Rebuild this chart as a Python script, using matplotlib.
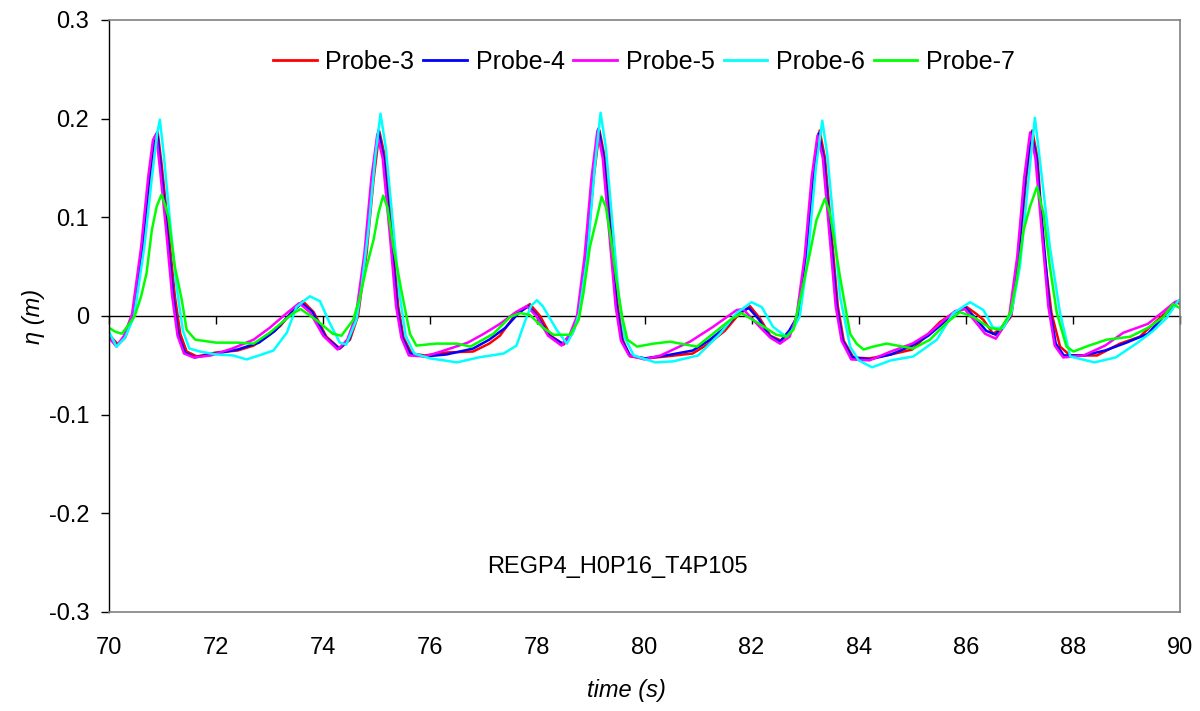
import matplotlib
matplotlib.use("Agg")
import matplotlib.pyplot as plt

plt.rcParams['font.family'] = ['Liberation Sans', 'DejaVu Sans']
plt.rcParams['axes.unicode_minus'] = False

# ---------------- data (time s, eta m) ----------------
probe3 = [(70.0, -0.019), (70.17, -0.029), (70.30, -0.022), (70.45, 0.0), (70.64, 0.070), (70.77, 0.138),
          (70.86, 0.178), (70.91, 0.186), (70.98, 0.155), (71.11, 0.087), (71.23, 0.020), (71.33, -0.018),
          (71.45, -0.036), (71.64, -0.041), (72.0, -0.037), (72.4, -0.035), (72.7, -0.030), (73.0, -0.019),
          (73.2, -0.010), (73.44, 0.006), (73.62, 0.015), (73.82, 0.004), (74.06, -0.021), (74.31, -0.033),
          (74.50, -0.024), (74.65, 0.0), (74.81, 0.064), (74.94, 0.138), (75.05, 0.187), (75.15, 0.162),
          (75.28, 0.087), (75.40, 0.010), (75.50, -0.022), (75.65, -0.038), (75.9, -0.040), (76.3, -0.037),
          (76.8, -0.036), (77.1, -0.028), (77.3, -0.020), (77.61, 0.003), (77.86, 0.012), (78.05, 0.0),
          (78.25, -0.020), (78.49, -0.029), (78.65, -0.018), (78.78, 0.0), (78.92, 0.060), (79.05, 0.140),
          (79.16, 0.188), (79.26, 0.160), (79.38, 0.085), (79.50, 0.010), (79.60, -0.025), (79.73, -0.041),
          (80.04, -0.043), (80.4, -0.041), (80.9, -0.038), (81.2, -0.028), (81.5, -0.015), (81.75, 0.001),
          (81.97, 0.010), (82.15, -0.002), (82.35, -0.020), (82.55, -0.025), (82.72, -0.015), (82.88, 0.0),
          (83.03, 0.060), (83.16, 0.140), (83.27, 0.188), (83.37, 0.160), (83.49, 0.085), (83.61, 0.010),
          (83.72, -0.025), (83.90, -0.042), (84.2, -0.043), (84.6, -0.039), (85.0, -0.034), (85.3, -0.018),
          (85.52, -0.006), (85.8, 0.004), (86.02, 0.009), (86.2, 0.002), (86.33, -0.004), (86.51, -0.018),
          (86.70, -0.011), (86.85, 0.0), (87.0, 0.060), (87.13, 0.140), (87.24, 0.188), (87.34, 0.160),
          (87.45, 0.070), (87.60, 0.003), (87.76, -0.031), (87.95, -0.040), (88.45, -0.040), (88.88, -0.028),
          (89.25, -0.021), (89.5, -0.008), (89.75, 0.004), (89.94, 0.014), (90.0, 0.012)]

probe4 = [(70.0, -0.022), (70.15, -0.030), (70.30, -0.020), (70.45, 0.002), (70.62, 0.070), (70.75, 0.140),
          (70.84, 0.180), (70.90, 0.186), (70.97, 0.150), (71.09, 0.085), (71.20, 0.020), (71.30, -0.020),
          (71.42, -0.037), (71.60, -0.042), (72.0, -0.038), (72.4, -0.034), (72.8, -0.027), (73.1, -0.015),
          (73.4, 0.003), (73.6, 0.013), (73.8, 0.004), (74.05, -0.022), (74.30, -0.033), (74.48, -0.024),
          (74.63, 0.0), (74.79, 0.064), (74.92, 0.140), (75.03, 0.188), (75.13, 0.160), (75.26, 0.085),
          (75.38, 0.010), (75.48, -0.022), (75.62, -0.038), (75.9, -0.041), (76.3, -0.039), (76.8, -0.033),
          (77.1, -0.024), (77.4, -0.012), (77.65, 0.003), (77.83, 0.010), (78.0, 0.0), (78.22, -0.020),
          (78.47, -0.028), (78.63, -0.018), (78.76, 0.0), (78.90, 0.060), (79.03, 0.140), (79.14, 0.190),
          (79.24, 0.160), (79.36, 0.085), (79.48, 0.010), (79.58, -0.025), (79.73, -0.040), (80.0, -0.043),
          (80.4, -0.040), (80.9, -0.035), (81.2, -0.025), (81.5, -0.012), (81.75, 0.003), (81.95, 0.008),
          (82.13, -0.003), (82.33, -0.020), (82.53, -0.026), (82.70, -0.015), (82.86, 0.0), (83.01, 0.060),
          (83.14, 0.140), (83.25, 0.185), (83.35, 0.160), (83.47, 0.085), (83.59, 0.010), (83.70, -0.025),
          (83.88, -0.042), (84.2, -0.044), (84.6, -0.039), (85.0, -0.030), (85.3, -0.020), (85.6, -0.006),
          (85.8, 0.004), (86.0, 0.008), (86.18, -0.002), (86.38, -0.015), (86.56, -0.019), (86.72, -0.008),
          (86.83, 0.0), (86.98, 0.060), (87.11, 0.140), (87.22, 0.186), (87.32, 0.160), (87.44, 0.085),
          (87.56, 0.010), (87.68, -0.028), (87.83, -0.040), (88.2, -0.040), (88.6, -0.035), (89.0, -0.027),
          (89.4, -0.018), (89.7, 0.0), (89.9, 0.012), (90.0, 0.016)]

probe5 = [(70.0, -0.022), (70.14, -0.031), (70.28, -0.020), (70.43, 0.002), (70.60, 0.070), (70.73, 0.140),
          (70.82, 0.178), (70.88, 0.184), (70.95, 0.150), (71.07, 0.085), (71.18, 0.020), (71.28, -0.020),
          (71.40, -0.038), (71.58, -0.042), (71.9, -0.040), (72.3, -0.033), (72.7, -0.024), (73.0, -0.012),
          (73.3, 0.002), (73.55, 0.013), (73.75, 0.004), (74.0, -0.020), (74.27, -0.034), (74.45, -0.024),
          (74.61, 0.0), (74.77, 0.064), (74.90, 0.140), (75.01, 0.184), (75.11, 0.160), (75.24, 0.085),
          (75.36, 0.010), (75.46, -0.022), (75.60, -0.040), (75.9, -0.041), (76.2, -0.036), (76.7, -0.027),
          (77.0, -0.018), (77.3, -0.008), (77.6, 0.004), (77.80, 0.010), (77.98, 0.0), (78.2, -0.020),
          (78.45, -0.030), (78.61, -0.018), (78.74, 0.0), (78.88, 0.060), (79.01, 0.140), (79.12, 0.188),
          (79.22, 0.160), (79.34, 0.085), (79.46, 0.010), (79.56, -0.025), (79.71, -0.040), (80.0, -0.044),
          (80.3, -0.040), (80.85, -0.026), (81.28, -0.011), (81.72, 0.006), (81.84, 0.007), (82.15, -0.011),
          (82.35, -0.022), (82.53, -0.028), (82.71, -0.021), (82.84, 0.0), (82.99, 0.060), (83.12, 0.140),
          (83.23, 0.183), (83.33, 0.160), (83.45, 0.085), (83.57, 0.010), (83.68, -0.025), (83.86, -0.044),
          (84.2, -0.045), (84.6, -0.036), (85.0, -0.028), (85.3, -0.018), (85.6, -0.004), (85.8, 0.005),
          (85.98, 0.007), (86.15, -0.004), (86.36, -0.018), (86.56, -0.023), (86.72, -0.010), (86.81, 0.0),
          (86.96, 0.060), (87.09, 0.140), (87.20, 0.186), (87.30, 0.160), (87.42, 0.085), (87.54, 0.010),
          (87.66, -0.030), (87.82, -0.042), (88.2, -0.040), (88.6, -0.030), (88.94, -0.017), (89.4, -0.008),
          (89.7, 0.005), (89.9, 0.014), (90.0, 0.016)]

probe6 = [(70.0, -0.016), (70.14, -0.031), (70.30, -0.022), (70.47, 0.0), (70.66, 0.070), (70.80, 0.140),
          (70.90, 0.185), (70.95, 0.199), (71.02, 0.165), (71.14, 0.095), (71.26, 0.030), (71.38, -0.015),
          (71.50, -0.033), (71.70, -0.036), (72.0, -0.039), (72.32, -0.040), (72.57, -0.044), (72.8, -0.040),
          (73.07, -0.035), (73.32, -0.017), (73.50, 0.009), (73.75, 0.020), (73.94, 0.015), (74.12, -0.007),
          (74.31, -0.027), (74.43, -0.029), (74.62, -0.004), (74.72, 0.030), (74.85, 0.090), (74.97, 0.160),
          (75.07, 0.205), (75.17, 0.170), (75.30, 0.095), (75.43, 0.020), (75.54, -0.020), (75.70, -0.038),
          (76.0, -0.043), (76.5, -0.047), (76.9, -0.042), (77.37, -0.038), (77.61, -0.030), (77.75, -0.008),
          (77.88, 0.010), (77.99, 0.016), (78.1, 0.010), (78.36, -0.014), (78.55, -0.028), (78.68, -0.015),
          (78.78, 0.003), (78.93, 0.060), (79.07, 0.150), (79.18, 0.206), (79.28, 0.170), (79.40, 0.095),
          (79.52, 0.020), (79.63, -0.022), (79.80, -0.040), (80.2, -0.047), (80.53, -0.046), (81.0, -0.040),
          (81.41, -0.018), (81.72, 0.003), (82.0, 0.014), (82.19, 0.009), (82.4, -0.011), (82.65, -0.021),
          (82.78, -0.013), (82.90, 0.0), (83.05, 0.060), (83.20, 0.150), (83.32, 0.198), (83.41, 0.165),
          (83.53, 0.095), (83.65, 0.020), (83.84, -0.031), (84.0, -0.045), (84.25, -0.052), (84.6, -0.045),
          (85.02, -0.041), (85.46, -0.024), (85.77, 0.003), (86.08, 0.014), (86.33, 0.006), (86.51, -0.012),
          (86.70, -0.012), (86.85, 0.003), (87.01, 0.050), (87.17, 0.138), (87.29, 0.201), (87.39, 0.155),
          (87.57, 0.070), (87.76, 0.003), (87.95, -0.041), (88.4, -0.047), (88.8, -0.042), (89.21, -0.027),
          (89.5, -0.015), (89.75, -0.002), (89.95, 0.014), (90.0, 0.017)]

probe7 = [(70.0, -0.012), (70.12, -0.016), (70.24, -0.018), (70.35, -0.010), (70.48, 0.0), (70.60, 0.020),
          (70.70, 0.043), (70.80, 0.087), (70.89, 0.111), (70.98, 0.123), (71.05, 0.112), (71.11, 0.100),
          (71.23, 0.050), (71.36, 0.016), (71.45, -0.014), (71.61, -0.024), (72.0, -0.027), (72.4, -0.027),
          (72.7, -0.028), (73.0, -0.017), (73.2, -0.008), (73.44, 0.003), (73.58, 0.007), (73.87, -0.004),
          (74.18, -0.018), (74.34, -0.020), (74.56, -0.004), (74.69, 0.020), (74.81, 0.050), (74.94, 0.077),
          (75.03, 0.104), (75.12, 0.122), (75.20, 0.110), (75.31, 0.070), (75.47, 0.023), (75.62, -0.018),
          (75.74, -0.030), (76.1, -0.028), (76.5, -0.028), (76.75, -0.031), (77.18, -0.018), (77.49, -0.001),
          (77.68, 0.003), (77.86, 0.001), (78.11, -0.012), (78.3, -0.019), (78.61, -0.019), (78.77, -0.004),
          (78.86, 0.023), (78.98, 0.070), (79.10, 0.097), (79.20, 0.121), (79.28, 0.110), (79.38, 0.075),
          (79.48, 0.035), (79.58, 0.0), (79.68, -0.024), (79.86, -0.031), (80.17, -0.028), (80.48, -0.026),
          (80.67, -0.028), (80.98, -0.031), (81.28, -0.018), (81.60, -0.004), (81.81, 0.003), (82.09, -0.006),
          (82.46, -0.019), (82.65, -0.021), (82.78, -0.014), (82.93, 0.023), (83.09, 0.064), (83.21, 0.097),
          (83.37, 0.119), (83.46, 0.105), (83.55, 0.075), (83.65, 0.040), (83.77, 0.003), (83.84, -0.018),
          (83.96, -0.028), (84.09, -0.034), (84.27, -0.031), (84.52, -0.028), (85.02, -0.033), (85.33, -0.024),
          (85.64, -0.007), (85.89, 0.004), (86.14, -0.001), (86.45, -0.012), (86.64, -0.014), (86.83, 0.003),
          (86.95, 0.036), (87.08, 0.087), (87.20, 0.111), (87.33, 0.131), (87.45, 0.104), (87.57, 0.050),
          (87.70, 0.003), (87.88, -0.031), (88.01, -0.036), (88.3, -0.030), (88.63, -0.024), (89.07, -0.021),
          (89.4, -0.012), (89.69, -0.001), (89.87, 0.012), (90.0, 0.008)]

series_names = ['Probe-3', 'Probe-4', 'Probe-5', 'Probe-6', 'Probe-7']
series_data = [probe3, probe4, probe5, probe6, probe7]
series_colors = ['#FF0000', '#0000FF', '#FF00FF', '#00FFFF', '#00FF00']

x_ticks = [70, 72, 74, 76, 78, 80, 82, 84, 86, 88, 90]
y_ticks = [-0.3, -0.2, -0.1, 0.0, 0.1, 0.2, 0.3]
y_tick_labels = ['-0.3', '-0.2', '-0.1', '0', '0.1', '0.2', '0.3']
case_label = 'REGP4_H0P16_T4P105'

# ---------------- figure ----------------
W, H = 1200, 711
fig = plt.figure(figsize=(W / 100, H / 100), dpi=100)
ax = fig.add_axes([109 / W, 1 - 612 / H, (1180 - 109) / W, (612 - 20) / H])

for pts, name, col in zip(series_data, series_names, series_colors):
    t = [p[0] for p in pts]
    v = [p[1] for p in pts]
    ax.plot(t, v, color=col, lw=1.8, label=name)

ax.set_xlim(70, 90)
ax.set_ylim(-0.3, 0.3)
ax.set_xticks(x_ticks)
ax.set_xticklabels([str(x) for x in x_ticks])
ax.set_yticks(y_ticks)
ax.set_yticklabels(y_tick_labels)

FS = 17
ax.tick_params(axis='x', length=0, pad=18, labelsize=FS)
ax.tick_params(axis='y', direction='out', length=5.8, width=1, pad=8.5, labelsize=FS, color='black')

for s in ['top', 'right', 'bottom']:
    ax.spines[s].set_color('#808080')
    ax.spines[s].set_linewidth(1.2)
ax.spines['left'].set_color('black')
ax.spines['left'].set_linewidth(1.0)

# zero axis with ticks pointing down
sec = ax.secondary_xaxis(0.5)
sec.set_alignment('bottom')
sec.set_xticks(x_ticks)
sec.tick_params(axis='x', direction='out', length=5.8, width=1, labelbottom=False, labeltop=False)
sec.spines['bottom'].set_color('black')
sec.spines['bottom'].set_linewidth(1.0)

ax.set_xlabel('time (s)', fontsize=FS, style='italic')
ax.xaxis.set_label_coords(0.483, -0.113)
ax.set_ylabel('η (m)', fontsize=FS, style='italic')
ax.yaxis.set_label_coords(-0.060, 0.5)

ax.text(79.5, -0.254, case_label, fontsize=FS, ha='center', va='center')

leg = ax.legend(loc='center', bbox_to_anchor=(0.4995, 0.929), ncol=5, frameon=False,
                fontsize=18, handlelength=1.75, handletextpad=0.35, columnspacing=0.35,
                borderaxespad=0, borderpad=0)
for ln in leg.get_lines():
    ln.set_linewidth(2)

fig.savefig('out.png', dpi=100)
